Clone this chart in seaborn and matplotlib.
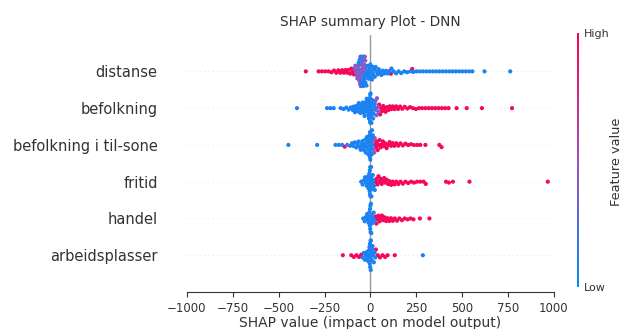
import warnings
import pandas as pd
import seaborn as sns
import matplotlib
matplotlib.use('Agg')
import matplotlib.pyplot as plt
from matplotlib.colors import LinearSegmentedColormap
warnings.filterwarnings('ignore')

features = ['distanse', 'befolkning', 'befolkning i til-sone', 'fritid', 'handel', 'arbeidsplasser']
xticks = [-1000, -750, -500, -250, 0, 250, 500, 750, 1000]

# shap values, grouped by feature value (high / mid / low)
distanse_hi = [-352, -282, -264, -246, -228, -212, -198, -186, -175, -164, -154, -144, -135,
               -126, -118, -110, -103, -96, -90, 112, 228]
distanse_mid = [-86, -82, -78, -74, -71, -68, -65, -62, -60, -58, -56, -54, -52, -50, -48,
                -46, -44, -42, -40, -38, -36, -34, -32, -30, -28, -26]
distanse_lo = [-64, -58, -52, -47, -43, -39, -35, -31, -27, -24, -21, -18, -15, -12, -9, -6,
               -3, 0, 3, 6, 9, 12, 16, 20, 24, 29, 34, 40, 46, 53, 60, 68, 76, 85, 94, 104,
               115, 127, 140, 154, 168, 184, 200, 217, 234, 251, 268, 286, 304, 322, 340,
               358, 376, 394, 412, 430, 448, 466, 484, 502, 520, 538, 556, 622, 762]

befolkning_hi = [48, 53, 58, 64, 70, 76, 83, 90, 98, 106, 114, 123, 132, 141, 151, 162, 174,
                 187, 201, 216, 232, 248, 265, 282, 300, 318, 336, 354, 372, 390, 408, 426,
                 470, 525, 608, 772]
befolkning_mid = [27, 30, 33, 36, 40, 44]
befolkning_lo = [-400, -236, -218, -200, -162, -146, -131, -118, -106, -96, -90, -84, -78,
                 -73, -68, -63, -58, -54, -50, -46, -42, -38, -35, -32, -29, -26, -23, -20,
                 -17, -14, -12, -10, -8, -6, -4, -3, -2, -1, 0, 1, 2, 3, 4, 6, 8, 10, 12, 15,
                 18, 21, 24]

tilsone_hi = [-140, 27, 31, 35, 40, 45, 50, 56, 62, 68, 75, 82, 89, 97, 105, 113, 122, 131,
              141, 152, 164, 177, 191, 206, 222, 238, 255, 272, 300, 376, 388]
tilsone_mid = [-126, 15, 18, 21, 24]
tilsone_lo = [-447, -290, -190, -172, -154, -110, -100, -92, -84, -77, -70, -64, -58, -53,
              -48, -43, -39, -35, -31, -28, -25, -22, -19, -16, -13, -11, -9, -7, -5, -3, -2,
              -1, 0, 1, 3, 5, 7, 9, 11, 13]

fritid_hi = [29, 34, 39, 44, 50, 56, 62, 68, 75, 82, 89, 97, 105, 113, 122, 131, 141, 152,
             164, 177, 191, 206, 222, 238, 255, 272, 290, 302, 412, 428, 450, 540, 967]
fritid_lo = [-50, -42, -35, -29, -24, -20, -16, -13, -10, -8, -6, -4, -3, -2, -1, 0, 1, 2, 3,
             4, 6, 8, 10, 13, 16, 20, 24]

handel_hi = [28, 33, 38, 44, 50, 56, 63, 70, 78, 86, 94, 103, 112, 122, 133, 145, 158, 172,
             187, 203, 219, 235, 270, 322]
handel_lo = [-39, -31, -24, -18, -14, -10, -7, -5, -3, -2, -1, 0, 1, 2, 3, 5, 7, 10, 14, 18, 23]

arbeid_hi = [-150, -104, -90, -76, -62, -50, 30, 40, 52, 66, 80, 94, 133]
arbeid_lo = [-42, -36, -30, -25, -20, -16, -12, -9, -7, -5, -3, -2, -1, 0, 1, 2, 3, 5, 7, 9,
             12, 15, 19, 23, 27, 286]

groups = [
    ('distanse', distanse_hi, 0.95), ('distanse', distanse_mid, 0.4), ('distanse', distanse_lo, 0.08),
    ('befolkning', befolkning_hi, 0.95), ('befolkning', befolkning_mid, 0.4), ('befolkning', befolkning_lo, 0.08),
    ('befolkning i til-sone', tilsone_hi, 0.95), ('befolkning i til-sone', tilsone_mid, 0.4),
    ('befolkning i til-sone', tilsone_lo, 0.08),
    ('fritid', fritid_hi, 0.95), ('fritid', fritid_lo, 0.08),
    ('handel', handel_hi, 0.95), ('handel', handel_lo, 0.08),
    ('arbeidsplasser', arbeid_hi, 0.95), ('arbeidsplasser', arbeid_lo, 0.08),
]
rows = []
for feat, vals, fv in groups:
    for v in vals:
        rows.append((feat, v, fv))
df = pd.DataFrame(rows, columns=['feature', 'shap', 'fval'])

red_blue = LinearSegmentedColormap.from_list('red_blue', ['#008bfb', '#a44fbf', '#ff0051'])
axis_color = '#333333'

sns.set_style('white')
plt.rcParams['font.family'] = ['DejaVu Sans']
fig = plt.figure(figsize=(6.23, 3.29), dpi=100)
ax = fig.add_axes([0.300, 0.1125, 0.589, 0.7823])

for i in range(len(features)):
    ax.axhline(i, color='#cccccc', lw=0.5, dashes=(1, 5), zorder=-1)
ax.axvline(0, color='#999999', lw=1, zorder=-1)

# swarm is laid out with small dots, then drawn a bit larger so they overlap like shap's
sns.swarmplot(data=df, x='shap', y='feature', hue='fval', order=features, orient='h',
              palette=red_blue, hue_norm=(0, 1), size=2.2, linewidth=0, legend=False,
              ax=ax, zorder=3)

ax.set_xlim(-1000, 1000)
ax.set_ylim(len(features), -1)
ax.set_xticks(xticks)
ax.set_xticklabels([str(t).replace('-', '\u2212') for t in xticks])
for s in ['top', 'right', 'left']:
    ax.spines[s].set_visible(False)
ax.spines['bottom'].set_color(axis_color)
ax.spines['bottom'].set_linewidth(0.8)
ax.tick_params('y', length=0, pad=21, labelsize=10.5, labelcolor=axis_color)
ax.tick_params('x', bottom=True, length=3.5, width=0.8, color=axis_color, labelsize=8.5,
               labelcolor=axis_color)
ax.set_ylabel('')
ax.set_xlabel('SHAP value (impact on model output)', fontsize=10, color=axis_color, labelpad=1)
ax.set_title('SHAP summary Plot - DNN', fontsize=9.8, color=axis_color)

cax = fig.add_axes([0.9255, 0.128, 0.0045, 0.772])
sm = matplotlib.cm.ScalarMappable(cmap=red_blue, norm=plt.Normalize(0, 1))
cb = fig.colorbar(sm, cax=cax, ticks=[0, 1])
cb.set_ticklabels(['Low', 'High'])
cb.ax.tick_params(labelsize=8, length=0, labelcolor=axis_color)
cb.outline.set_visible(False)
fig.text(616 / 623, 1 - 162 / 329, 'Feature value', rotation=90, ha='center', va='center',
         fontsize=9.3, color=axis_color)

fig.canvas.draw()
for coll in ax.collections:
    if 'draw' in coll.__dict__:
        del coll.draw
    coll.set_sizes([3.0 ** 2])

fig.savefig('out.png', dpi=100)
